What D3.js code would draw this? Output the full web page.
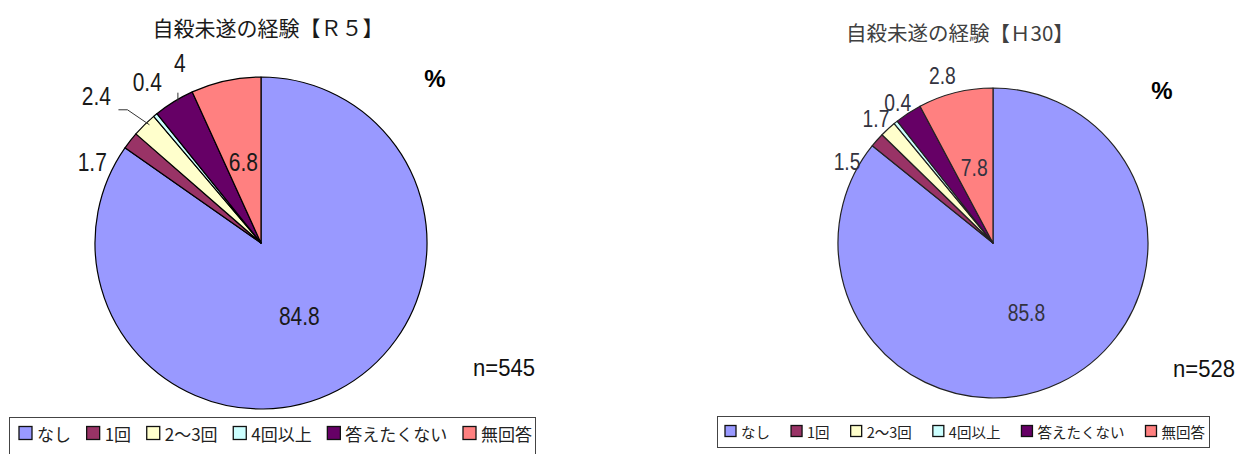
<!DOCTYPE html>
<html>
<head>
<meta charset="utf-8">
<script src="https://cdn.jsdelivr.net/npm/d3@7"></script>
<style>
  html, body { margin: 0; padding: 0; background: #fff; }
  svg { display: block; }
</style>
</head>
<body>
<div id="chart"></div>
<script>
const categories = ["なし", "1回", "2～3回", "4回以上", "答えたくない", "無回答"];
const colors = ["#9999FF", "#993366", "#FFFFCC", "#CCFFFF", "#660066", "#FF8080"];
const valuesR5 = [84.8, 1.7, 2.4, 0.4, 4, 6.8];
const valuesH30 = [85.8, 1.5, 1.7, 0.4, 2.8, 7.8];
const titleR5 = "自殺未遂の経験【Ｒ５】";
const titleH30 = "自殺未遂の経験【Ｈ30】";
const countR5 = "n=545";
const countH30 = "n=528";

const W = 1247, H = 454;
// no narrow font available, so numbers are squeezed horizontally
const NUM_FONT = "'Liberation Sans', Arial, sans-serif";
const NUM_SQUEEZE = 0.84;
const JP_FONT = "'Noto Sans CJK JP', 'Noto Sans', sans-serif";

const svg = d3.select("#chart").append("svg")
	.attr("width", W)
	.attr("height", H)
	.attr("viewBox", `0 0 ${W} ${H}`);

function numText(parent, x, y, txt, size, color, anchor, squeeze) {
	return parent.append("text")
		.attr("transform", `translate(${x},${y}) scale(${squeeze || NUM_SQUEEZE},1)`)
		.attr("text-anchor", anchor || "middle")
		.attr("dominant-baseline", "central")
		.attr("font-family", NUM_FONT)
		.attr("font-size", size)
		.attr("fill", color)
		.text(txt);
}

// layout for each of the two panels
const panels = [
	{
		values: valuesR5, title: titleR5, count: countR5,
		cx: 261, cy: 243, r: 166,
		titleX: 268, titleY: 27, titleSize: 21, titleColor: "#1a1a1a",
		labelSize: 25, labelColor: "#1a1a1a", stroke: "#000",
		pctX: 435, pctY: 78,
		countX: 535, countY: 368,
		inside: [0, 5],
		outside: {1: [-38, 22], 2: [-48, -28], 3: [-8, -33], 4: [6, -38]},
		leaders: {2: [[-26, -15], [-17, -15], [5, 0]], 4: [[4, -9], [4, 1]]},
		legend: {x: 9, y: 417, w: 526, h: 50, x0: 19, x1: 532, sq: 13, font: 17, rowY: 433}
	},
	{
		values: valuesH30, title: titleH30, count: countH30,
		cx: 993, cy: 243, r: 155,
		titleX: 960, titleY: 32, titleSize: 20.5, titleColor: "#404040",
		labelSize: 23, labelColor: "#333340", stroke: "#222",
		pctX: 1162, pctY: 90,
		countX: 1235, countY: 369,
		inside: [0, 5],
		outside: {1: [-30, 22], 2: [-12, -10], 3: [2, -19], 4: [34, -37]},
		leaders: {},
		legend: {x: 717, y: 416, w: 492, h: 31, x0: 725, x1: 1205, sq: 11, font: 14.5, rowY: 431}
	}
];

const pie = d3.pie().sort(null).value(d => d);

panels.forEach(p => {
	const g = svg.append("g").attr("transform", `translate(${p.cx},${p.cy})`);
	const arcs = pie(p.values);
	const arc = d3.arc().innerRadius(0).outerRadius(p.r);
	const edgeArc = d3.arc().innerRadius(p.r).outerRadius(p.r);

	g.selectAll("path")
		.data(arcs)
		.join("path")
		.attr("d", arc)
		.attr("fill", (d, i) => colors[i])
		.attr("stroke", p.stroke)
		.attr("stroke-width", 1.2)
		.attr("stroke-linejoin", "round");

	// inside labels
	p.inside.forEach(i => {
		const [x, y] = arc.centroid(arcs[i]);
		numText(g, x, y, p.values[i], p.labelSize, p.labelColor);
	});

	// outside labels, placed relative to the slice's outer edge
	Object.entries(p.outside).forEach(([k, off]) => {
		const i = +k;
		const [ex, ey] = edgeArc.centroid(arcs[i]);
		numText(g, ex + off[0], ey + off[1], p.values[i], p.labelSize, p.labelColor);
	});

	// leader lines
	Object.entries(p.leaders).forEach(([k, pts]) => {
		const [ex, ey] = edgeArc.centroid(arcs[+k]);
		g.append("path")
			.attr("d", d3.line()(pts.map(q => [ex + q[0], ey + q[1]])))
			.attr("fill", "none")
			.attr("stroke", "#333")
			.attr("stroke-width", 1);
	});

	// title
	svg.append("text")
		.attr("x", p.titleX).attr("y", p.titleY)
		.attr("text-anchor", "middle")
		.attr("dominant-baseline", "central")
		.attr("font-family", JP_FONT)
		.attr("font-size", p.titleSize)
		.attr("fill", p.titleColor)
		.text(p.title);

	// percent sign
	svg.append("text")
		.attr("x", p.pctX).attr("y", p.pctY)
		.attr("text-anchor", "middle")
		.attr("dominant-baseline", "central")
		.attr("font-family", "'Liberation Sans', Arial, sans-serif")
		.attr("font-weight", "bold")
		.attr("font-size", 24)
		.attr("fill", "#000")
		.text("%");

	// sample size
	numText(svg, p.countX, p.countY, p.count, 24, "#111", "end", 0.92);

	// legend
	const L = p.legend;
	svg.append("rect")
		.attr("x", L.x + 0.5).attr("y", L.y + 0.5)
		.attr("width", L.w).attr("height", L.h)
		.attr("fill", "#fff")
		.attr("stroke", "#444")
		.attr("stroke-width", 1);

	const lg = svg.append("g");
	const items = lg.selectAll("g")
		.data(categories)
		.join("g");
	items.append("rect")
		.attr("width", L.sq).attr("height", L.sq)
		.attr("y", L.rowY - L.sq / 2)
		.attr("fill", (d, i) => colors[i])
		.attr("stroke", "#111")
		.attr("stroke-width", 1.3);
	const texts = items.append("text")
		.attr("x", L.sq + 5)
		.attr("y", L.rowY)
		.attr("dominant-baseline", "central")
		.attr("font-family", JP_FONT)
		.attr("font-size", L.font)
		.attr("fill", "#222")
		.text(d => d);

	const widths = texts.nodes().map(n => n.getComputedTextLength() + L.sq + 5);
	const total = d3.sum(widths);
	const gap = (L.x1 - L.x0 - total) / (categories.length - 1);
	let cur = L.x0;
	items.attr("transform", (d, i) => {
		const t = `translate(${cur},0)`;
		cur += widths[i] + gap;
		return t;
	});
});
</script>
</body>
</html>
